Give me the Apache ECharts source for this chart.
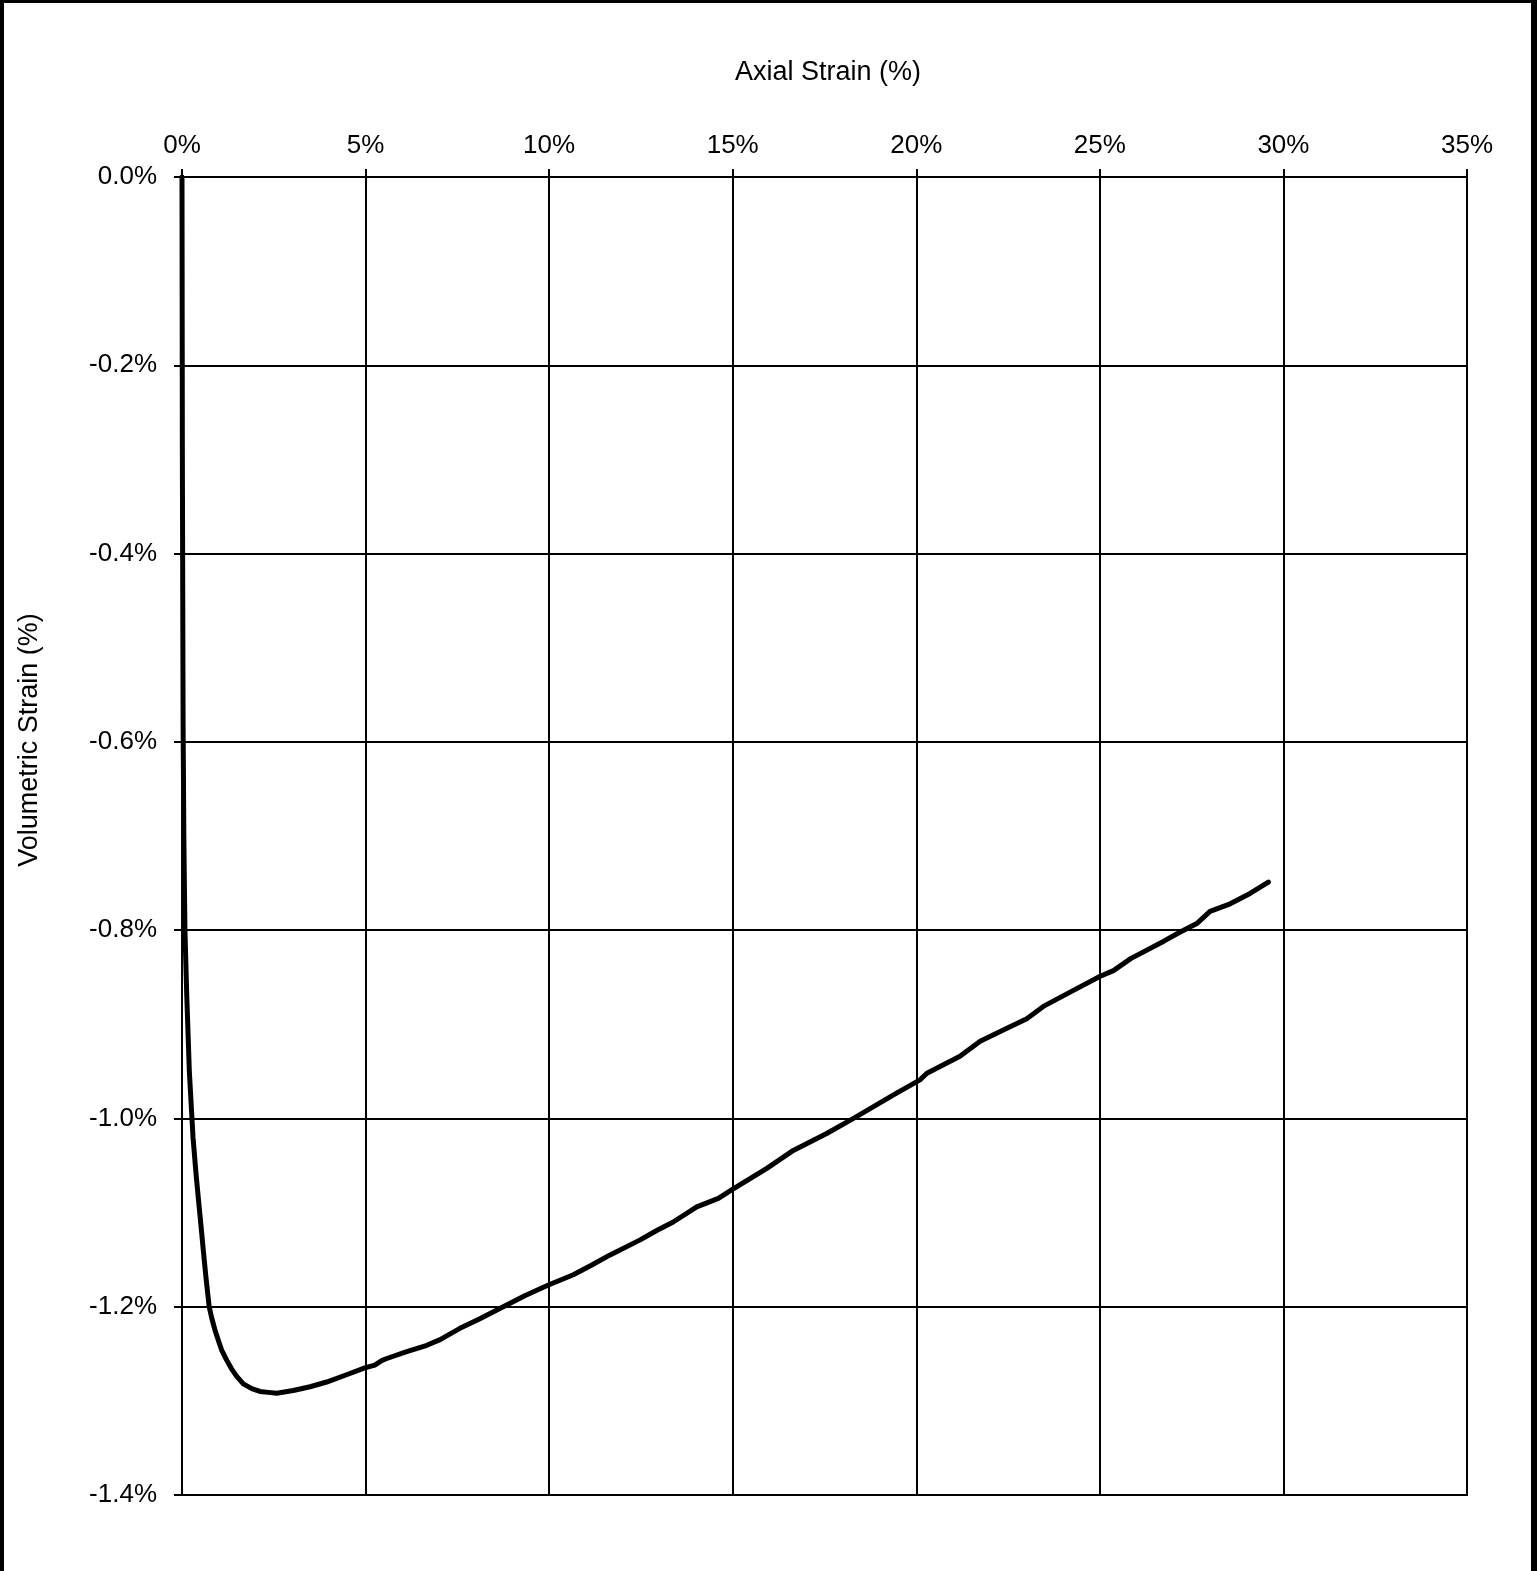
<!DOCTYPE html>
<html>
<head>
<meta charset="utf-8">
<script src="https://cdn.jsdelivr.net/npm/echarts@6/dist/echarts.min.js"></script>
<style>
html,body{margin:0;padding:0;background:#fff;}
#chart{width:1537px;height:1571px;}
</style>
</head>
<body>
<div id="chart"></div>
<script>
// Axial strain (%) and volumetric strain (%)
const axialStrain = [0, 0.01, 0.03, 0.05, 0.08, 0.13, 0.2, 0.3, 0.38, 0.45, 0.52, 0.58, 0.65, 0.74, 0.81, 0.9, 1.0, 1.08, 1.22, 1.35, 1.49, 1.67, 1.9, 2.12, 2.35, 2.58, 3.03, 3.49, 3.94, 4.5, 4.98, 5.25, 5.45, 5.58, 6.1, 6.67, 7.03, 7.57, 8.1, 8.75, 9.35, 9.98, 10.66, 11.15, 11.66, 12.48, 12.93, 13.38, 14.02, 14.61, 14.97, 15.93, 16.65, 17.56, 18.29, 19.38, 20.1, 20.29, 21.19, 21.74, 22.37, 23.01, 23.46, 24.28, 25.01, 25.37, 25.85, 26.73, 27.19, 27.64, 28.0, 28.55, 29.09, 29.59];
const volumetricStrain = [0, -0.3, -0.58, -0.7, -0.8, -0.87, -0.95, -1.02, -1.058, -1.087, -1.115, -1.14, -1.168, -1.2, -1.212, -1.225, -1.237, -1.246, -1.257, -1.266, -1.274, -1.282, -1.287, -1.29, -1.291, -1.292, -1.289, -1.285, -1.28, -1.272, -1.265, -1.262, -1.257, -1.255, -1.248, -1.241, -1.235, -1.223, -1.213, -1.2, -1.188, -1.177, -1.166, -1.156, -1.145, -1.129, -1.119, -1.11, -1.094, -1.085, -1.076, -1.053, -1.034, -1.016, -1.0, -0.975, -0.959, -0.952, -0.934, -0.918, -0.906, -0.894, -0.881, -0.864, -0.849, -0.843, -0.83, -0.812, -0.802, -0.793, -0.78, -0.772, -0.761, -0.749];
const xAxisTitle = 'Axial Strain (%)';
const yAxisTitle = 'Volumetric Strain (%)';
const xRange = [0, 35, 5];
const yRange = [-1.4, 0, 0.2];

const points = axialStrain.map((x, i) => [x, volumetricStrain[i]]);
const font = '"Liberation Sans", Arial, sans-serif';

const chart = echarts.init(document.getElementById('chart'), null, {renderer: 'canvas'});
chart.setOption({
  backgroundColor: '#fff',
  animation: false,
  grid: {left: 182, top: 177, width: 1285, height: 1318, show: true, borderColor: '#000', borderWidth: 2, backgroundColor: 'transparent'},
  xAxis: {
    type: 'value', position: 'top', min: xRange[0], max: xRange[1], interval: xRange[2],
    axisLine: {show: true, lineStyle: {color: '#000', width: 2}},
    axisTick: {show: true, inside: false, length: 8, lineStyle: {color: '#000', width: 2}},
    splitLine: {show: true, lineStyle: {color: '#000', width: 2}},
    axisLabel: {show: true, margin: 18, color: '#000', fontSize: 26, fontFamily: font, formatter: v => v + '%'}
  },
  yAxis: {
    type: 'value', min: yRange[0], max: yRange[1], interval: yRange[2],
    axisLine: {show: true, lineStyle: {color: '#000', width: 2}},
    axisTick: {show: true, inside: false, length: 8, lineStyle: {color: '#000', width: 2}},
    splitLine: {show: true, lineStyle: {color: '#000', width: 2}},
    axisLabel: {show: true, margin: 25, color: '#000', fontSize: 26, fontFamily: font, formatter: v => v.toFixed(1) + '%'}
  },
  graphic: [
    {type: 'rect', shape: {x: 0, y: 0, width: 1537, height: 3}, style: {fill: '#000'}, silent: true},
    {type: 'rect', shape: {x: 0, y: 0, width: 4, height: 1571}, style: {fill: '#000'}, silent: true},
    {type: 'rect', shape: {x: 1531, y: 0, width: 6, height: 1571}, style: {fill: '#000'}, silent: true},
    {type: 'text', x: 828, y: 73, style: {text: xAxisTitle, fill: '#000', font: '27px ' + font, textAlign: 'center', textVerticalAlign: 'middle'}},
    {type: 'text', x: 30, y: 740, rotation: Math.PI / 2, style: {text: yAxisTitle, fill: '#000', font: '27px ' + font, textAlign: 'center', textVerticalAlign: 'middle'}}
  ],
  series: [{
    type: 'line', data: points, showSymbol: false, smooth: false,
    lineStyle: {color: '#000', width: 5, join: 'round', cap: 'round'},
    z: 5
  }]
});
</script>
</body>
</html>
